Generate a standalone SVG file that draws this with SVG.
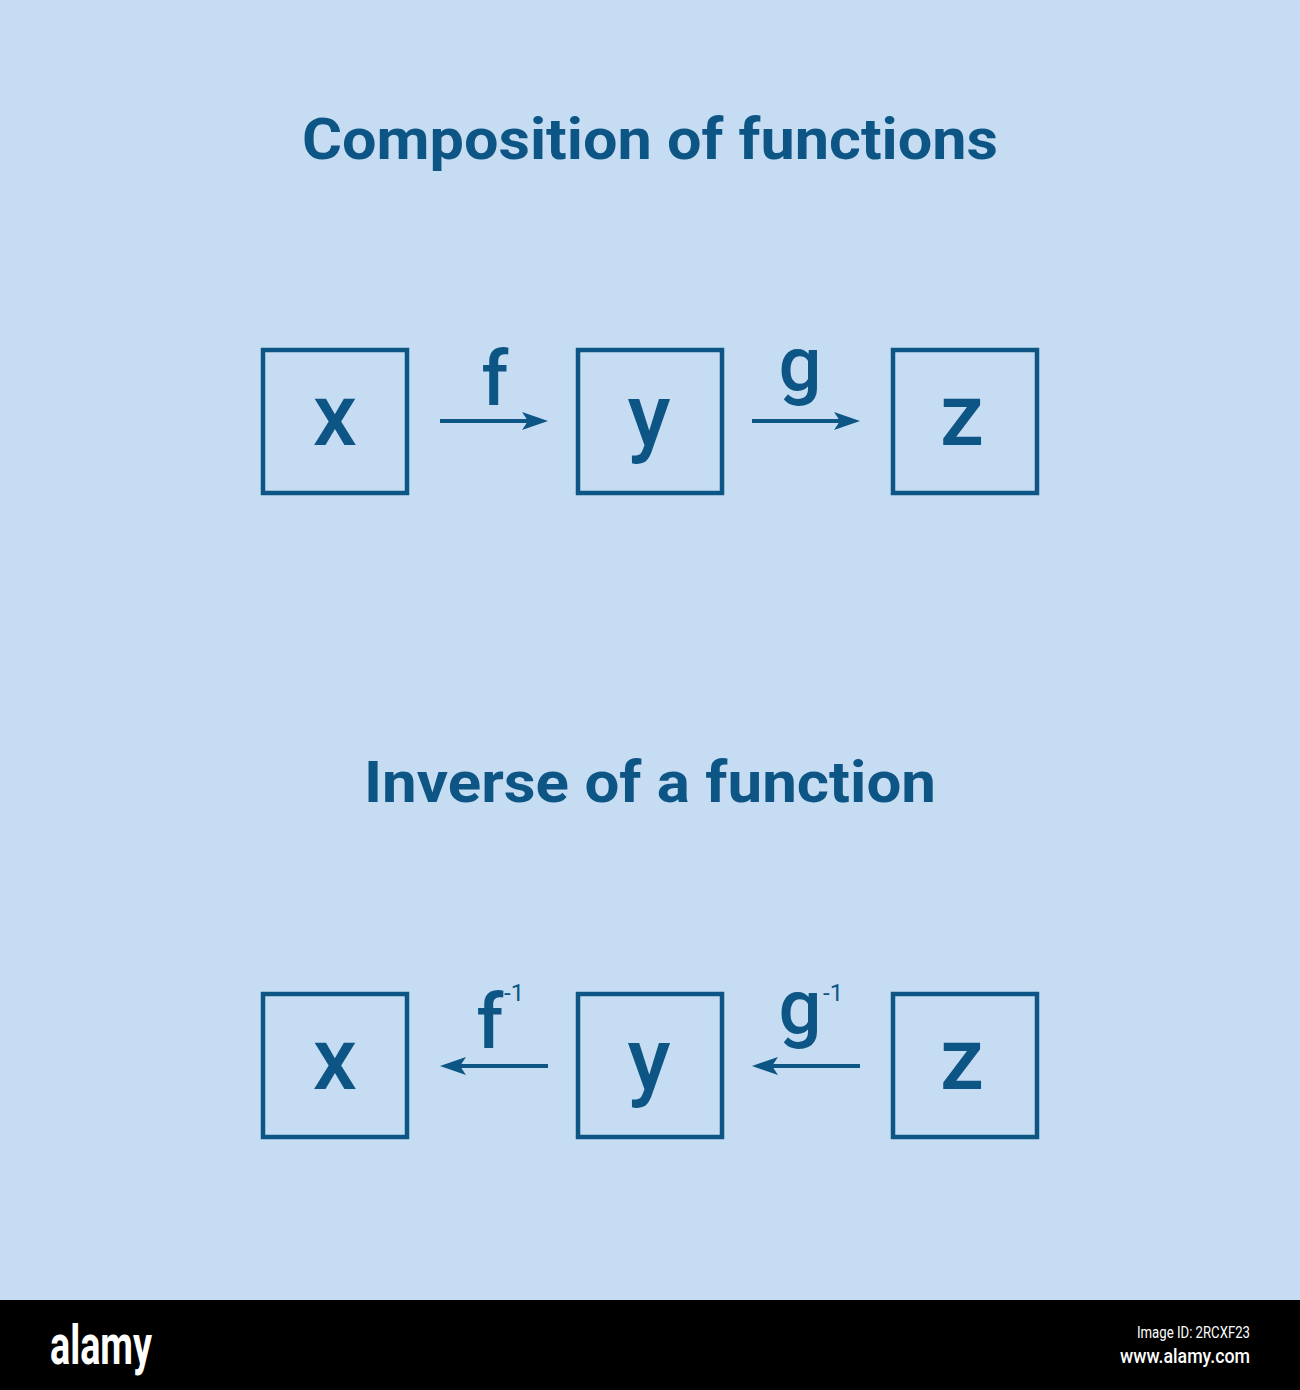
<svg xmlns="http://www.w3.org/2000/svg" width="1300" height="1390" viewBox="0 0 1300 1390">
<style>
.title{font-family:"Roboto","Liberation Sans",sans-serif;font-weight:700;fill:#0d5585}
.box{fill:none;stroke:#0d5585;stroke-width:4.5}
.var{font-family:"Roboto","Liberation Sans",sans-serif;font-weight:500;font-size:88px;fill:#0d5585;text-anchor:middle}
.lbl{font-family:"Roboto","Liberation Sans",sans-serif;font-weight:500;font-size:76px;fill:#0d5585;text-anchor:middle}
.sup{font-family:"Roboto","Liberation Sans",sans-serif;font-weight:400;font-size:24px;fill:#0d5585}
.conn{fill:none;stroke:#0d5585;stroke-width:4}
.foot{font-family:"Roboto","Liberation Sans",sans-serif;fill:#ffffff}
</style>
<defs>
<marker id="ah" viewBox="0 0 26 20" markerWidth="26" markerHeight="20" refX="20" refY="10" orient="auto" markerUnits="userSpaceOnUse">
<path d="M0,1 L26,10 L0,19 L6,10 Z" fill="#0d5585"/>
</marker>
</defs>
<rect x="0" y="0" width="1300" height="1390" fill="#c6dcf2"/>

<text class="title" x="302" y="159" font-size="58" textLength="696" lengthAdjust="spacingAndGlyphs">Composition of functions</text>
<text class="title" x="364" y="802" font-size="58" textLength="572" lengthAdjust="spacingAndGlyphs">Inverse of a function</text>

<g id="top-x"><rect class="box" x="263" y="350" width="144" height="143"/><text class="var" x="335" y="445">x</text></g>
<g id="top-y"><rect class="box" x="578" y="350" width="144" height="143"/><text class="var" x="649" y="445">y</text></g>
<g id="top-z"><rect class="box" x="893" y="350" width="144" height="143"/><text class="var" x="962" y="445">z</text></g>

<g id="bot-x"><rect class="box" x="263" y="994" width="144" height="143"/><text class="var" x="335" y="1089">x</text></g>
<g id="bot-y"><rect class="box" x="578" y="994" width="144" height="143"/><text class="var" x="649" y="1089">y</text></g>
<g id="bot-z"><rect class="box" x="893" y="994" width="144" height="143"/><text class="var" x="962" y="1089">z</text></g>

<g id="connectors">
<path class="conn" d="M440,421 H542" marker-end="url(#ah)"/>
<path class="conn" d="M752,421 H854" marker-end="url(#ah)"/>
<path class="conn" d="M548,1066 H446" marker-end="url(#ah)"/>
<path class="conn" d="M860,1066 H758" marker-end="url(#ah)"/>
</g>

<g id="labels">
<text class="lbl" x="495" y="405">f</text>
<text class="lbl" x="800" y="390">g</text>
<text class="lbl" x="490" y="1048">f</text>
<text class="sup" x="504" y="1001">-1</text>
<text class="lbl" x="800" y="1033">g</text>
<text class="sup" x="823" y="1001">-1</text>
</g>

<g id="footer">
<rect x="0" y="1300" width="1300" height="90" fill="#000000"/>
<text class="foot" x="50" y="1364" font-size="56" font-weight="700" textLength="102" lengthAdjust="spacingAndGlyphs">alamy</text>
<text class="foot" x="1250" y="1338" font-size="16" text-anchor="end" textLength="113" lengthAdjust="spacingAndGlyphs">Image ID: 2RCXF23</text>
<text class="foot" x="1250" y="1363" font-size="20" font-weight="500" text-anchor="end" textLength="130" lengthAdjust="spacingAndGlyphs">www.alamy.com</text>
</g>
</svg>
